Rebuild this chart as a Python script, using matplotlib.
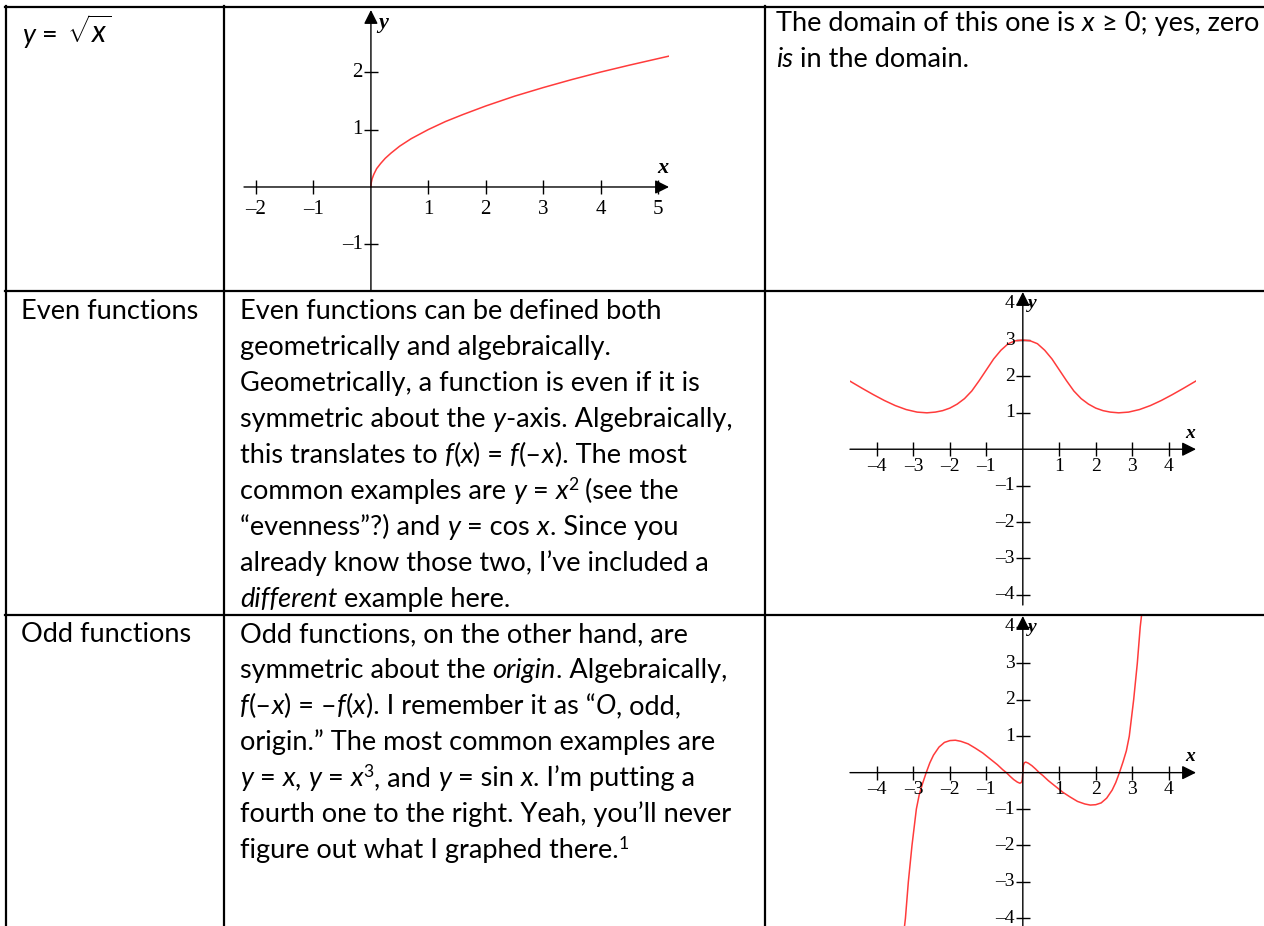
import numpy as np
import matplotlib.pyplot as plt
from matplotlib.lines import Line2D

plt.rcParams['mathtext.fontset'] = 'custom'
plt.rcParams['mathtext.rm'] = 'Lato'
plt.rcParams['mathtext.it'] = 'Lato:italic'

W, H = 1264, 926
BODY = ['Lato', 'DejaVu Sans']
SERIF = 'Liberation Serif'
RED = '#ff3b3b'

# values
sqrt_x = [0, 0.005, 0.02, 0.05, 0.1, 0.17, 0.25, 0.35, 0.5, 0.7, 1.0, 1.3, 1.6, 2.0,
          2.5, 3.0, 3.5, 4.0, 4.5, 5.2]
sqrt_y = [0, 0.07, 0.14, 0.22, 0.32, 0.41, 0.50, 0.59, 0.71, 0.84, 1.0, 1.14, 1.26, 1.41,
          1.58, 1.73, 1.87, 2.0, 2.12, 2.28]

even_x = [-4.74, -4.4, -4.1, -3.8, -3.5, -3.2, -2.9, -2.63, -2.4, -2.2, -2.0, -1.8, -1.6,
          -1.4, -1.2, -1.0, -0.8, -0.6, -0.4, -0.2, 0,
          0.2, 0.4, 0.6, 0.8, 1.0, 1.2, 1.4, 1.6, 1.8, 2.0, 2.2, 2.4, 2.63, 2.9, 3.2, 3.5,
          3.8, 4.1, 4.4, 4.74]
even_y = [1.87, 1.67, 1.50, 1.34, 1.20, 1.09, 1.02, 1.00, 1.02, 1.06, 1.13, 1.24, 1.39,
          1.60, 1.88, 2.18, 2.48, 2.72, 2.90, 2.98, 3.0,
          2.98, 2.90, 2.72, 2.48, 2.18, 1.88, 1.60, 1.39, 1.24, 1.13, 1.06, 1.02, 1.00, 1.02,
          1.09, 1.20, 1.34, 1.50, 1.67, 1.87]

odd_x = [-3.26, -3.22, -3.18, -3.14, -3.09, -3.04, -2.98, -2.92, -2.84, -2.75, -2.65,
         -2.55, -2.45, -2.3, -2.15, -2.0, -1.85, -1.7, -1.5, -1.3, -1.1, -0.9, -0.7,
         -0.55, -0.45, -0.35, -0.25, -0.15, -0.08, -0.04, -0.015, 0,
         0.015, 0.04, 0.08, 0.15, 0.25, 0.35, 0.45, 0.55, 0.7, 0.9, 1.1, 1.3, 1.5, 1.7,
         1.85, 2.0, 2.15, 2.3, 2.45, 2.55, 2.65, 2.75, 2.84, 2.92, 2.98, 3.04, 3.09, 3.14,
         3.18, 3.22, 3.26]
odd_y = [-4.35, -4.0, -3.5, -3.0, -2.5, -2.0, -1.5, -1.0, -0.6, -0.3, 0.0,
         0.27, 0.48, 0.70, 0.83, 0.88, 0.89, 0.86, 0.79, 0.67, 0.54, 0.38, 0.22,
         0.08, 0.0, -0.10, -0.19, -0.26, -0.29, -0.27, -0.20, 0,
         0.20, 0.27, 0.29, 0.26, 0.19, 0.10, 0.0, -0.08, -0.22, -0.38, -0.54, -0.67, -0.79,
         -0.86, -0.89, -0.88, -0.83, -0.70, -0.48, -0.27, 0.0, 0.3, 0.6, 1.0, 1.5, 2.0,
         2.5, 3.0, 3.5, 4.0, 4.35]

sqrt_xticks = [-2, -1, 1, 2, 3, 4, 5]
sqrt_yticks = [-1, 1, 2]
quad_ticks = [-4, -3, -2, -1, 1, 2, 3, 4]

row_labels = ['Even functions', 'Odd functions']

# text of the table cells: (text, kind) with kind n=normal, i=italic, s=superscript
domain_lines = [
    [('The domain of this one is ', 'n'), ('x', 'i'), (' \u2265 0; yes, zero', 'n')],
    [('is', 'i'), (' in the domain.', 'n')],
]
even_lines = [
    [('Even functions can be defined both', 'n')],
    [('geometrically and algebraically.', 'n')],
    [('Geometrically, a function is even if it is', 'n')],
    [('symmetric about the ', 'n'), ('y', 'i'), ('-axis. Algebraically,', 'n')],
    [('this translates to ', 'n'), ('f', 'i'), ('(', 'n'), ('x', 'i'), (') = ', 'n'), ('f', 'i'),
     ('(\u2013', 'n'), ('x', 'i'), ('). The most', 'n')],
    [('common examples are ', 'n'), ('y', 'i'), (' = ', 'n'), ('x', 'i'), ('2', 's'), (' (see the', 'n')],
    [('\u201cevenness\u201d?) and ', 'n'), ('y', 'i'), (' = cos ', 'n'), ('x', 'i'), ('. Since you', 'n')],
    [('already know those two, I\u2019ve included a', 'n')],
    [('different', 'i'), (' example here.', 'n')],
]
odd_lines = [
    [('Odd functions, on the other hand, are', 'n')],
    [('symmetric about the ', 'n'), ('origin', 'i'), ('. Algebraically,', 'n')],
    [('f', 'i'), ('(\u2013', 'n'), ('x', 'i'), (') = \u2013', 'n'), ('f', 'i'), ('(', 'n'), ('x', 'i'),
     ('). I remember it as \u201c', 'n'), ('O', 'i'), (', odd,', 'n')],
    [('origin.\u201d The most common examples are', 'n')],
    [('y', 'i'), (' = ', 'n'), ('x', 'i'), (', ', 'n'), ('y', 'i'), (' = ', 'n'), ('x', 'i'), ('3', 's'),
     (', and ', 'n'), ('y', 'i'), (' = sin ', 'n'), ('x', 'i'), ('. I\u2019m putting a', 'n')],
    [('fourth one to the right. Yeah, you\u2019ll never', 'n')],
    [('figure out what I graphed there.', 'n'), ('1', 's')],
]

fig = plt.figure(figsize=(W / 100, H / 100), dpi=100)
renderer = fig.canvas.get_renderer()


def fx(x):
    return x / W


def fy(y):
    return 1 - y / H


def width(s, size, style):
    t = fig.text(0, 0, '|' + s + '|', fontsize=size, family=BODY, style=style)
    w = t.get_window_extent(renderer).width
    t.remove()
    t = fig.text(0, 0, '||', fontsize=size, family=BODY, style=style)
    w -= t.get_window_extent(renderer).width
    t.remove()
    return w


def line_width(parts, size):
    w = 0
    for s, k in parts:
        fs = size * 0.65 if k == 's' else size
        w += width(s, fs, 'italic' if k == 'i' else 'normal')
    return w


def write(x, y, parts, size):
    for s, k in parts:
        style = 'italic' if k == 'i' else 'normal'
        fs = size
        yy = y
        if k == 's':
            fs = size * 0.65
            yy = y - size * 100 / 72 * 0.33
        fig.text(fx(x), fy(yy), s, fontsize=fs, family=BODY, style=style, va='baseline')
        x += width(s, fs, style)


# body size picked so the first line of the domain cell fills it like the original
body = 20 * 484 / line_width(domain_lines[0], 20)
LEAD = 36

# table rules
for y in [7, 291, 615]:
    fig.add_artist(Line2D([fx(5), 1], [fy(y), fy(y)], color='k', lw=1.6))
for x in [6, 224, 765]:
    fig.add_artist(Line2D([fx(x), fx(x)], [fy(6), 0], color='k', lw=1.6))

# cell texts
write(22, 43, [('y', 'i'), (' = ', 'n')], body)
fig.text(fx(22 + line_width([('y', 'i'), (' = ', 'n')], body) + 2), fy(43), r'$\sqrt{x}$',
         fontsize=body * 1.1, va='baseline')
for i, ln in enumerate(domain_lines):
    write(776, 31 + i * LEAD, ln, body)

write(21, 319, [(row_labels[0], 'n')], body)
for i, ln in enumerate(even_lines):
    write(240, 319 + i * LEAD, ln, body)

write(21, 642, [(row_labels[1], 'n')], body)
for i, ln in enumerate(odd_lines):
    write(240, 642 + i * LEAD, ln, body)


def lab(t):
    return ('\u2013' + str(-t)) if t < 0 else str(t)


def graph(rect, xs, ys, xlim, ylim, xt, yt, fs, xoff, lfs, xlab_off, ylab_off):
    left, top, right, bottom = rect
    ax = fig.add_axes([fx(left), fy(bottom), (right - left) / W, (bottom - top) / H])
    ax.set_xlim(xlim)
    ax.set_ylim(ylim)
    ax.axis('off')
    ax.plot(xs, ys, color=RED, lw=1.1, zorder=3, solid_joinstyle='round')
    arr = dict(arrowstyle='-|>,head_length=0.6,head_width=0.3', mutation_scale=14,
               lw=1.0, color='k', shrinkA=0, shrinkB=0)
    ax.annotate('', xy=(xlim[1], 0), xytext=(xlim[0], 0), arrowprops=arr, annotation_clip=False)
    ax.annotate('', xy=(0, ylim[1]), xytext=(0, ylim[0]), arrowprops=arr, annotation_clip=False)
    ax.plot(xt, [0] * len(xt), ls='none', marker='|', ms=10, mew=1.0, color='k', clip_on=False)
    ax.plot([0] * len(yt), yt, ls='none', marker='_', ms=10, mew=1.0, color='k', clip_on=False)
    for t in xt:
        ax.annotate(lab(t), (t, 0), xytext=(0, -xoff), textcoords='offset pixels',
                    ha='center', va='center', fontsize=fs, family=SERIF, annotation_clip=False)
    for t in yt:
        ax.annotate(lab(t), (0, t), xytext=(-8, 0), textcoords='offset pixels',
                    ha='right', va='center', fontsize=fs, family=SERIF, annotation_clip=False)
    ax.annotate('x', (xlim[1], 0), xytext=xlab_off, textcoords='offset pixels', ha='center',
                va='center', fontsize=lfs, family=SERIF, style='italic', weight='bold',
                annotation_clip=False)
    ax.annotate('y', (0, ylim[1]), xytext=ylab_off, textcoords='offset pixels', ha='center',
                va='center', fontsize=lfs, family=SERIF, style='italic', weight='bold',
                annotation_clip=False)
    return ax


graph((244, 10, 669, 291), sqrt_x, sqrt_y, (-2.21, 5.19), (-1.81, 3.08),
      sqrt_xticks, sqrt_yticks, 15, 23, 16, (-6, 19), (12, -13))
graph((850, 292, 1196, 605), even_x, even_y, (-4.74, 4.75), (-4.28, 4.32),
      quad_ticks, quad_ticks, 14, 17, 14, (-6, 16), (9, -11))
graph((850, 616, 1196, 926), odd_x, odd_y, (-4.74, 4.75), (-4.21, 4.30),
      quad_ticks, quad_ticks, 14, 17, 14, (-6, 16), (9, -11))

fig.savefig('out.png', dpi=100)
